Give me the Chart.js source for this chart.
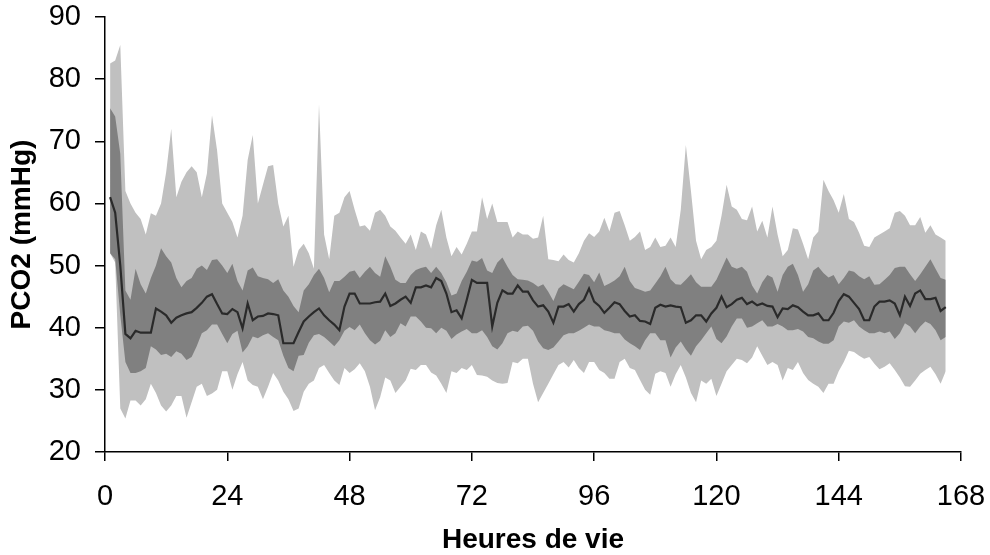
<!DOCTYPE html>
<html>
<head>
<meta charset="utf-8">
<script src="https://cdn.jsdelivr.net/npm/chart.js@4"></script>
<style>
  html, body { margin: 0; padding: 0; background: #fff; }
  #cadre { width: 990px; height: 555px; }
</style>
</head>
<body>
<div id="cadre"><canvas id="grafica"></canvas></div>
<script>
// heures 1 à 165
const heures = [];
for (let h = 1; h <= 165; h++) heures.push(h);

const ticksX = [0, 24, 48, 72, 96, 120, 144, 168];
const ticksY = [20, 30, 40, 50, 60, 70, 80, 90];

// médiane
const mediane = [
  61, 58.5, 50, 39, 38.3, 39.5, 39.2, 39.2, 39.2, 43.1,
  42.6, 42, 40.8, 41.6, 42, 42.3, 42.5, 43.2, 44, 45,
  45.4, 43.8, 42.3, 42.2, 43, 42.5, 39.9, 43.9, 41.2, 41.8,
  41.9, 42.3, 42.2, 42, 37.5, 37.5, 37.5, 39.3, 41, 41.8,
  42.5, 43.1, 42, 41.2, 40.5, 39.6, 43.4, 45.5, 45.5, 43.9,
  43.9, 43.9, 44.1, 44.2, 45.5, 43.5, 43.9, 44.5, 45, 44,
  46.5, 46.5, 46.8, 46.5, 48, 47.5, 45.5, 42.5, 42.8, 41.5,
  44.5, 47.7, 47.2, 47.2, 47.2, 40.2, 44, 46, 45.5, 45.5,
  46.8, 45.8, 45.8, 44.4, 43.4, 43.6, 42.6, 40.8, 43.4, 43.4,
  43.8, 42.6, 43.8, 44.5, 46.3, 44.2, 43.5, 42.4, 43.2, 44.1,
  43.8, 42.7, 41.8, 42, 41.1, 41, 40.6, 43.2, 43.7, 43.4,
  43.6, 43.4, 43.3, 40.8, 41.2, 42, 42, 41, 42.3, 43.2,
  45, 43.3, 43.8, 44.5, 44.8, 43.8, 44.2, 43.6, 43.9, 43.5,
  43.4, 41.7, 43.1, 43, 43.6, 43.3, 42.6, 42, 42, 42.3,
  41.2, 41.2, 42.4, 44.3, 45.4, 45, 44, 43, 41.2, 41.2,
  43.4, 44.2, 44.2, 44.4, 43.9, 42, 45, 43.5, 45.5, 46,
  44.6, 44.6, 44.8, 42.7, 43.3
];

// enveloppe claire, haut
const clairHaut = [
  82.5, 83, 85.5, 62, 60, 58.5, 57.5, 55, 58.4, 58,
  60, 65, 72, 61, 63.5, 65, 66, 65, 61, 64.8,
  74.2, 68.5, 60, 58.5, 57, 54.5, 58, 67, 71, 60,
  63, 66, 66.2, 60, 56.3, 58, 49.8, 52.5, 53.5, 52,
  49.5, 76, 55, 51, 58, 58.5, 61, 62, 59, 56.3,
  56.5, 55.6, 58.5, 59, 58, 56.3, 55.6, 54.5, 53.5, 55,
  52.5, 55.5, 55, 52.7, 56.5, 59, 54.5, 51.5, 53, 51.8,
  53.5, 55.5, 55.5, 61, 57.5, 60, 57, 57, 57, 54.5,
  55.5, 55, 55, 54.3, 54.5, 58, 51, 50.9, 50.7, 51.8,
  50.9, 50.5, 52, 54, 55.2, 54.6, 55.5, 57.7, 55.5, 58.5,
  58.8, 56.5, 54, 54.6, 55.5, 52.5, 53, 54.5, 53, 53.2,
  54.5, 53, 59, 69.4, 62, 54, 51, 52.5, 53, 54,
  58, 63, 59.5, 59, 57.5, 57.3, 59.5, 55.5, 57.2, 54.5,
  59.5, 55, 51.5, 52.5, 56, 55.8, 53.5, 51, 54.5, 55.5,
  63.8, 62, 60.5, 58.5, 61.5, 57.5, 57, 55.3, 53.2, 53,
  54.5, 55, 55.5, 56, 58.5, 58.8, 58, 56.5, 56.5, 57.8,
  55.3, 56.5, 55, 54.5, 54
];

// enveloppe claire, bas
const clairBas = [
  52, 50.5, 27, 25.4, 28.3, 28.3, 27.5, 28.5, 31, 29.5,
  27.5, 26.5, 27.5, 29, 29, 25.5, 28, 30.5, 31, 29,
  29.4, 30, 33, 33, 30, 32.5, 34.5, 31.5, 30.8, 30.5,
  28.5, 30.5, 32.7, 31.5, 29.7, 28.5, 26.6, 27, 29.7, 31,
  31.5, 33.5, 34, 32.7, 31.5, 30.8, 33.5, 32.7, 33.3, 34.3,
  33, 30.5, 26.7, 28.8, 32, 31.5, 29.5, 30.5, 31.5, 33.4,
  33.2, 34, 34, 32.8, 32.3, 31, 29.5, 33, 32.7, 33.5,
  33.2, 34, 32.4, 32.3, 32.1, 31.5, 31.1, 31, 31.1, 34.5,
  34.3, 35, 35, 31, 28, 29.5, 31, 32.5, 34, 34.5,
  33.6, 34.8, 33.5, 32.7, 34.5, 34.5, 33.2, 32.7, 31.8, 31.8,
  34.5, 35, 33.5, 33.2, 31.6, 30, 29.2, 32.6, 33, 32.7,
  30.5, 32.5, 34, 32, 29.5, 28, 31.5, 31, 31.8, 29,
  31, 33, 34, 35, 34.8, 34.3, 35.2, 37, 35.5, 34,
  34.5, 34, 31.5, 33.5, 33.2, 34.5, 32.7, 31.6, 31, 30.5,
  29.5, 31, 31, 33, 34.5, 36.3, 36.1, 35.5, 35, 35.3,
  34.2, 33.3, 33.7, 34.3, 33.2, 32, 30.6, 30.5, 31.5, 32.6,
  33.2, 33.7, 32.5, 31, 33
];

// enveloppe foncée, haut
const fonceHaut = [
  75.3, 74, 68, 46, 44.5, 49.5, 47, 45.5, 48, 50,
  52.8, 51.5, 50.5, 48, 46.5, 47.5, 48, 49.5, 50, 49.3,
  50.9, 51, 50, 48.8, 50.3, 47.5, 46, 49.2, 49.7, 48.3,
  48, 47.8, 47.2, 47.8, 46, 45, 43.5, 42.5, 46, 47,
  48.5, 49.5, 48, 45.7, 47.5, 47.5, 48.2, 49, 49.2, 48,
  49, 49.8, 48.8, 48.2, 51.5, 49.8, 47.7, 47.2, 47.2, 48.5,
  49.3, 49.6, 49.8, 48.8, 49.8, 48.8, 47.3, 45.2, 45.5, 47.5,
  49, 50.8, 50.6, 51.2, 49.2, 48.8, 50.5, 51.3, 49.8, 48.5,
  47.8, 47.7, 47.6, 47.2, 46.6, 47, 45.8, 44.3, 46.3, 47,
  46.6, 46.2, 47.4, 48.7, 48.5, 47.3, 48.9, 46.7, 47.1, 47.6,
  48.3, 49.8, 47.5, 46.4, 46.1, 45.8, 46, 47.1, 48.3, 49.8,
  47.8, 47, 46.9, 47.7, 48.6, 47.3, 46.6, 46.6, 46.6, 47.7,
  49.5, 51.3, 49.8, 49.5, 49.8, 49, 46.8, 45.5, 47.3, 48.5,
  48.1, 45.8, 48.5, 49.8, 50.3, 48.5, 45.8, 47, 49.2, 49.8,
  48.8, 48.1, 48.5, 47, 48, 49.2, 49, 48.3, 47.8, 48.3,
  46.9, 47, 47.7, 48.5, 49.6, 49.8, 49.8, 48.6, 47.5, 48.6,
  49.8, 51, 49.5, 48, 47.7
];

// enveloppe foncée, bas
const fonceBas = [
  52, 51, 42, 34.5, 32.7, 32.7, 33, 33.5, 37, 36.5,
  35.6, 35.8, 35.3, 36.2, 35.8, 34.8, 35.3, 37, 39.1, 39.6,
  40.5, 40.5, 39, 37.5, 39, 39.5, 36, 37, 38.6, 38.3,
  38.8, 39.1, 38.5, 38, 35.5, 33.5, 33, 35.5, 35.6, 37.6,
  38.8, 39, 38.5, 37.8, 37, 38, 39.5, 40.1, 39.6, 40.5,
  39.1, 38, 37.3, 37.9, 39.6, 38.5, 39.1, 40.7, 40.2, 41.8,
  41.8, 41, 40, 39.9, 39.1, 40, 39.5, 38.2, 38.9, 39.4,
  39.8, 39.1, 39.1, 39.6, 38.5, 37, 36.5, 37.5, 39.1, 39.5,
  39.3, 40.2, 40.3, 39.5, 37.8, 36.7, 36.4, 36.8, 37.8, 38.8,
  39.1, 39.1, 39.5, 40, 40.5, 40.2, 40.2, 39.6, 39.4, 39.1,
  39.1, 38.1, 37.5, 37, 36.4, 38, 39.1, 39.1, 38, 38,
  35.2, 36.8, 37.8, 36.5, 35.5, 37, 38, 39.1, 40.2, 38.2,
  37.5, 38.6, 40.2, 41.5, 41.5, 40, 40.2, 40.7, 41.2, 40.2,
  40.2, 40.6, 40.2, 39.6, 39.6, 39.8, 39.4, 38.5, 38.3, 37.8,
  37.4, 37.4, 38, 40.2, 41, 40.8, 41.2, 40.2, 39.6, 39.1,
  39.1, 39.4, 39.1, 39.4, 38.2, 39.1, 40.7, 40.2, 39.1, 40.2,
  41, 40.6, 39.6, 38, 38.5
];

function serie(valeurs) {
  return valeurs.map((v, i) => ({ x: heures[i], y: v }));
}

const police = "'Liberation Sans', Arial, sans-serif";

new Chart(document.getElementById('grafica'), {
  type: 'line',
  data: {
    datasets: [
      { data: serie(clairHaut), fill: '+1', backgroundColor: '#c0c0c0', borderWidth: 0, pointRadius: 0, order: 3 },
      { data: serie(clairBas), fill: false, borderWidth: 0, pointRadius: 0, order: 3 },
      { data: serie(fonceHaut), fill: '+1', backgroundColor: '#808080', borderWidth: 0, pointRadius: 0, order: 2 },
      { data: serie(fonceBas), fill: false, borderWidth: 0, pointRadius: 0, order: 2 },
      { data: serie(mediane), fill: false, borderColor: '#2a2a2a', borderWidth: 2.2, pointRadius: 0, tension: 0, order: 1 }
    ]
  },
  options: {
    responsive: true,
    maintainAspectRatio: false,
    animation: false,
    layout: { padding: { top: 17, right: 29, bottom: 0, left: 0 } },
    plugins: { legend: { display: false }, tooltip: { enabled: false } },
    scales: {
      x: {
        type: 'linear',
        min: ticksX[0],
        max: ticksX[ticksX.length - 1],
        afterBuildTicks: s => { s.ticks = ticksX.map(v => ({ value: v })); },
        // taille fixe de l'axe pour caler la zone de tracé
        afterFit: s => { s.height = 103; s.paddingLeft = 0; s.paddingRight = 0; },
        ticks: { color: '#000', font: { family: police, size: 29 }, padding: 19, maxRotation: 0, autoSkip: false },
        grid: { drawOnChartArea: false, drawTicks: true, tickLength: 9, color: '#000', lineWidth: 1.5 },
        border: { color: '#000', width: 1.5 },
        title: { display: true, text: 'Heures de vie', color: '#000',
                 font: { family: police, size: 28, weight: 'bold', lineHeight: 1 }, padding: { top: 0, bottom: 1 } }
      },
      y: {
        min: ticksY[0],
        max: ticksY[ticksY.length - 1],
        afterBuildTicks: s => { s.ticks = ticksY.map(v => ({ value: v })); },
        afterFit: s => { s.width = 105; s.paddingTop = 0; s.paddingBottom = 0; },
        ticks: { color: '#000', font: { family: police, size: 29 }, padding: 14 },
        grid: { drawOnChartArea: false, drawTicks: true, tickLength: 10, color: '#000', lineWidth: 1.5 },
        border: { color: '#000', width: 1.5 },
        title: { display: true, text: 'PCO2 (mmHg)', color: '#000',
                 font: { family: police, size: 28, weight: 'bold', lineHeight: 1 }, padding: { top: 8, bottom: 0 } }
      }
    }
  }
});
</script>
</body>
</html>
